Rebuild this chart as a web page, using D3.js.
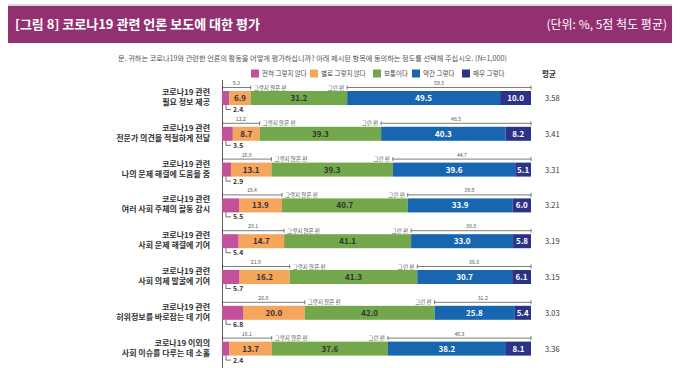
<!DOCTYPE html>
<html>
<head>
<meta charset="utf-8">
<script src="https://cdn.jsdelivr.net/npm/d3@7"></script>
<style>
  body { margin: 0; background: #fff; }
  svg { display: block; font-family: "Noto Sans CJK KR", "Noto Sans", sans-serif; }
</style>
</head>
<body>
<script>
// items (two-line labels)
let labels1 = ['코로나19 관련', '코로나19 관련', '코로나19 관련', '코로나19 관련',
  '코로나19 관련', '코로나19 관련', '코로나19 관련', '코로나19 이외의'];
let labels2 = ['필요 정보 제공', '전문가 의견을 적절하게 전달', '나의 문제 해결에 도움을 줌',
  '여러 사회 주체의 활동 감시', '사회 문제 해결에 기여', '사회 의제 발굴에 기여',
  '허위정보를 바로잡는 데 기여', '사회 이슈를 다루는 데 소홀'];
let categories = ['전혀 그렇지 않다', '별로 그렇지 않다', '보통이다', '약간 그렇다', '매우 그렇다'];

// series values (%)
let notAtAll = [2.4, 3.5, 2.9, 5.5, 5.4, 5.7, 6.8, 2.4];
let notReally = [6.9, 8.7, 13.1, 13.9, 14.7, 16.2, 20.0, 13.7];
let neutral = [31.2, 39.3, 39.3, 40.7, 41.1, 41.3, 42.0, 37.6];
let somewhat = [49.5, 40.3, 39.6, 33.9, 33.0, 30.7, 25.8, 38.2];
let very = [10.0, 8.2, 5.1, 6.0, 5.8, 6.1, 5.4, 8.1];
let negSum = [9.3, 12.2, 16.0, 19.4, 20.1, 21.9, 26.8, 16.1];
let posSum = [59.5, 48.5, 44.7, 39.9, 38.8, 36.8, 31.2, 46.3];
let means = ['3.58', '3.41', '3.31', '3.21', '3.19', '3.15', '3.03', '3.36'];

let colors = ['#c2509b', '#f5a55c', '#72a84b', '#1866b0', '#2b3388'];
let textColors = ['#fff', '#333', '#333', '#fff', '#fff'];

let width = 680, height = 368;
let barH = 14;

let svg = d3.select('body').append('svg')
    .attr('width', width)
    .attr('height', height);

// header band
svg.append('line')
    .attr('x1', 8).attr('x2', 672).attr('y1', 5).attr('y2', 5)
    .attr('stroke', '#d8d8d8').attr('stroke-width', 2);
svg.append('rect')
    .attr('x', 8).attr('y', 6).attr('width', 664).attr('height', 37)
    .attr('fill', '#933071');
svg.append('text')
    .attr('x', 15).attr('y', 29)
    .attr('fill', '#fff').attr('font-size', 13).attr('font-weight', 'bold')
    .text('[그림 8] 코로나19 관련 언론 보도에 대한 평가');
svg.append('text')
    .attr('x', 667).attr('y', 29).attr('text-anchor', 'end')
    .attr('fill', '#fff').attr('font-size', 12)
    .text('(단위: %, 5점 척도 평균)');

// question
svg.append('text')
    .attr('x', 118).attr('y', 61)
    .attr('fill', '#555').attr('font-size', 7.2)
    .attr('textLength', 389).attr('lengthAdjust', 'spacingAndGlyphs')
    .text('문. 귀하는 코로나19와 관련한 언론의 활동을 어떻게 평가하십니까? 아래 제시된 항목에 동의하는 정도를 선택해 주십시오. (N=1,000)');

// legend
let legendX = [251, 310, 373, 412, 462];
let legend = svg.append('g').selectAll('g')
    .data(categories)
  .enter().append('g')
    .attr('transform', function(d, i){ return 'translate(' + legendX[i] + ',69.5)'; });
legend.append('rect')
    .attr('width', 8).attr('height', 8)
    .attr('fill', function(d, i){ return colors[i]; });
legend.append('text')
    .attr('x', 11).attr('y', 6.5)
    .attr('font-size', 6.5).attr('fill', '#444')
    .text(function(d){ return d; });

svg.append('text')
    .attr('x', 549).attr('y', 77).attr('text-anchor', 'middle')
    .attr('font-size', 7.5).attr('font-weight', 'bold').attr('fill', '#333')
    .text('평균');

// scales
let x = d3.scaleLinear().domain([0, 100]).range([222, 531]);
let y = d3.scalePoint().domain(d3.range(8)).range([98, 98 + 7 * 35.8]);

// stack rows
let series = [notAtAll, notReally, neutral, somewhat, very];
let rows = d3.range(8).map(function(i){
  let acc = 0;
  return series.map(function(s, k){
    let seg = { row: i, k: k, v: s[i], x0: acc, x1: acc + s[i] };
    acc += s[i];
    return seg;
  });
});

// axis line
svg.append('line')
    .attr('x1', 222.5).attr('x2', 222.5).attr('y1', 80).attr('y2', height)
    .attr('stroke', '#333').attr('stroke-width', 0.8);

let row = svg.append('g').selectAll('g')
    .data(rows)
  .enter().append('g');

// row labels
row.append('text')
    .attr('x', 210).attr('y', function(d, i){ return y(i) - 3; })
    .attr('text-anchor', 'end').attr('font-size', 8).attr('font-weight', 'bold').attr('fill', '#333')
    .text(function(d, i){ return labels1[i]; });
row.append('text')
    .attr('x', 210).attr('y', function(d, i){ return y(i) + 7; })
    .attr('text-anchor', 'end').attr('font-size', 8).attr('font-weight', 'bold').attr('fill', '#333')
    .text(function(d, i){ return labels2[i]; });

// bar segments
row.selectAll('rect')
    .data(function(d){ return d; })
  .enter().append('rect')
    .attr('x', function(d){ return x(d.x0); })
    .attr('y', function(d){ return y(d.row) - barH / 2; })
    .attr('width', function(d){ return x(d.x1) - x(d.x0); })
    .attr('height', barH)
    .attr('fill', function(d){ return colors[d.k]; });

row.selectAll('text.val')
    .data(function(d){ return d.filter(function(s){ return s.k > 0; }); })
  .enter().append('text')
    .attr('class', 'val')
    .attr('x', function(d){ return (x(d.x0) + x(d.x1)) / 2; })
    .attr('y', function(d){ return y(d.row) + 3; })
    .attr('text-anchor', 'middle').attr('font-size', 8).attr('font-weight', 'bold')
    .attr('fill', function(d){ return textColors[d.k]; })
    .text(function(d){ return d.v.toFixed(1); });

// small first segment value below the bar
row.append('path')
    .attr('d', function(d, i){
      let yb = y(i) + barH / 2;
      return 'M226,' + yb + 'V' + (yb + 4.5) + 'H231';
    })
    .attr('fill', 'none').attr('stroke', '#333').attr('stroke-width', 0.7);
row.append('text')
    .attr('x', 233).attr('y', function(d, i){ return y(i) + barH / 2 + 7; })
    .attr('font-size', 6.8).attr('font-weight', 'bold').attr('fill', '#333')
    .text(function(d, i){ return notAtAll[i].toFixed(1); });

// brackets above the bar
function bracket(g, xa, xb, yl) {
  g.append('path')
    .attr('d', 'M' + xa + ',' + (yl - 2) + 'V' + (yl + 2) + 'M' + xa + ',' + yl + 'H' + xb +
      'M' + xb + ',' + (yl - 2) + 'V' + (yl + 2))
    .attr('fill', 'none').attr('stroke', '#444').attr('stroke-width', 0.7);
}
row.each(function(d, i){
  let g = d3.select(this);
  let yl = y(i) - barH / 2 - 3.5;
  let xn = x(negSum[i]);
  let xp = x(100 - posSum[i]);
  bracket(g, x(0) + 0.5, xn, yl);
  bracket(g, xp, x(100), yl);
  g.append('text')
      .attr('x', (x(0) + xn) / 2).attr('y', yl - 2.5)
      .attr('text-anchor', 'middle').attr('font-size', 5.2).attr('fill', '#555')
      .text(negSum[i].toFixed(1));
  g.append('text')
      .attr('x', xn + 3).attr('y', yl + 2)
      .attr('font-size', 5.5).attr('fill', '#555')
      .text('그렇지 않은 편');
  g.append('text')
      .attr('x', (xp + x(100)) / 2).attr('y', yl - 2.5)
      .attr('text-anchor', 'middle').attr('font-size', 5.2).attr('fill', '#555')
      .text(posSum[i].toFixed(1));
  g.append('text')
      .attr('x', xp - 3).attr('y', yl + 2)
      .attr('text-anchor', 'end').attr('font-size', 5.5).attr('fill', '#555')
      .text('그런 편');
});

// means
row.append('text')
    .attr('x', 545).attr('y', function(d, i){ return y(i) + 3; })
    .attr('font-size', 7.5).attr('fill', '#333')
    .text(function(d, i){ return means[i]; });
</script>
</body>
</html>
